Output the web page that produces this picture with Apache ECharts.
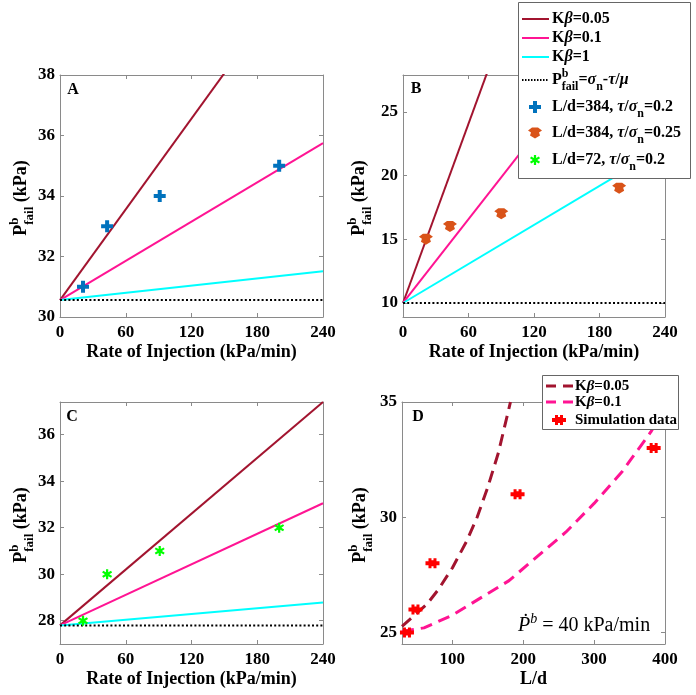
<!DOCTYPE html>
<html><head><meta charset="utf-8">
<script src="https://cdn.jsdelivr.net/npm/echarts@6/dist/echarts.min.js"></script>
<style>html,body{margin:0;padding:0;background:#fff}#c{width:696px;height:695px}</style>
</head><body><div id="c"></div>
<script>
// ---------------- data ----------------
const rates = [0, 240];
const aKb005 = [30.56, 42.56];
const aKb01 = [30.56, 35.75];
const aKb1 = [30.56, 31.51];
const aBase = [30.56, 30.56];
const aRate = [21, 43, 91, 200];
const aP = [31, 33, 34, 35];

const bKb005 = [10, 66.3];
const bKb01 = [10, 36.3];
const bKb1 = [10, 22.26];
const bBase = [10, 10];
const bRate = [21, 43, 90, 198];
const bP = [15, 16, 17, 19];

const cKb005 = [27.8, 37.4];
const cKb01 = [27.8, 33.05];
const cKb1 = [27.8, 28.78];
const cBase = [27.8, 27.8];
const cRate = [21, 43, 91, 200];
const cP = [28, 30, 31, 32];

const dLd005 = [29, 64, 80, 100, 120, 135, 150, 165, 182];
const dKb005 = [25.27, 26.22, 26.85, 27.8, 28.95, 30.0, 31.3, 32.8, 35.0];
const dLd01 = [29, 60, 100, 140, 180, 220, 260, 300, 340, 380, 400];
const dKb01 = [25.05, 25.2, 25.75, 26.5, 27.25, 28.3, 29.35, 30.6, 32.0, 33.7, 34.75];
const dLd = [36, 48, 72, 192, 384];
const dP = [25, 26, 28, 31, 33];

const rateTicks = [0, 60, 120, 180, 240];
const aYTicks = [30, 32, 34, 36, 38];
const bYTicks = [10, 15, 20, 25];
const cYTicks = [28, 30, 32, 34, 36];
const dXTicks = [100, 200, 300, 400];
const dYTicks = [25, 30, 35];

// ---------------- styles ----------------
const SERIF = "'Liberation Serif', 'Times New Roman', serif";
const AX = '#8a8a8a';
const C005 = '#A2142F', C01 = '#FF1493', C1 = '#00FFFF';
const cv = document.createElement('canvas').getContext('2d');
function tw(t, size, bold, italic) {
  cv.font = (italic ? 'italic ' : '') + (bold ? 'bold ' : '') + size + "px 'Liberation Serif'";
  return cv.measureText(t).width;
}
function rich(segs, base) {
  const kids = []; let x = 0;
  function put(seg, x0) {
    const small = seg.sup || seg.sub;
    const s = seg.s || (small ? Math.round(base * 0.72) : base);
    const dy = seg.sup ? -0.45 * base : seg.sub ? 0.38 * base : 0;
    const bold = seg.b !== false;
    const it = !!seg.i;
    const w = tw(seg.t, s, bold, it);
    kids.push({type: 'text', x: x0, y: dy + 0.33 * base - 0.33 * s, z: 101,
      style: {text: seg.t, fontSize: s, fontFamily: SERIF, fontWeight: bold ? 'bold' : 'normal',
        fontStyle: it ? 'italic' : 'normal', fill: '#000', align: 'left', verticalAlign: 'middle'}});
    return w;
  }
  for (const seg of segs) {
    if (seg.stack) { let w = 0; for (const s2 of seg.stack) w = Math.max(w, put(s2, x)); x += w; }
    else x += put(seg, x);
  }
  return {kids, width: x};
}
function richGroup(segs, base, x, y, opt) {
  opt = opt || {};
  const r = rich(segs, base);
  const off = opt.center ? -r.width / 2 : 0;
  r.kids.forEach(k => k.x += off);
  return {type: 'group', x, y, rotation: opt.rot || 0, z: 101, children: r.kids};
}

// ---------------- grids & axes ----------------
const grids = [
  {left: 60, top: 75, width: 263, height: 242},
  {left: 403, top: 75, width: 262, height: 242},
  {left: 60, top: 402, width: 263, height: 242},
  {left: 402, top: 402, width: 263, height: 242}
].map(g => Object.assign({outerBoundsMode: 'none', containLabel: false, show: false}, g));

const labelStyle = {color: '#000', fontFamily: SERIF, fontWeight: 'bold', fontSize: 17};
function axis(gi, min, max, ticks, pos, name) {
  const isX = pos === 'bottom' || pos === 'top';
  const main = pos === 'bottom' || pos === 'left';
  const a = {
    type: 'value', gridIndex: gi, min, max, position: pos,
    axisLine: {show: true, onZero: false, lineStyle: {color: AX, width: 1}},
    axisTick: {show: true, inside: true, length: 4, customValues: ticks, lineStyle: {color: AX, width: 1}},
    axisLabel: Object.assign({show: main, customValues: ticks, margin: isX ? 7 : 5}, labelStyle),
    splitLine: {show: false}
  };
  if (name) {
    a.name = name; a.nameLocation = 'middle'; a.nameGap = 26;
    a.nameTextStyle = {color: '#000', fontFamily: SERIF, fontWeight: 'bold', fontSize: 18};
  }
  return a;
}
const RX = 'Rate of Injection (kPa/min)';
const xAxis = [
  axis(0, 0, 240, rateTicks, 'bottom', RX), axis(0, 0, 240, rateTicks, 'top'),
  axis(1, 0, 240, rateTicks, 'bottom', RX), axis(1, 0, 240, rateTicks, 'top'),
  axis(2, 0, 240, rateTicks, 'bottom', RX), axis(2, 0, 240, rateTicks, 'top'),
  axis(3, 29, 400, dXTicks, 'bottom', 'L/d'), axis(3, 29, 400, dXTicks, 'top')
];
const yAxis = [
  axis(0, 30, 38, aYTicks, 'left'), axis(0, 30, 38, aYTicks, 'right'),
  axis(1, 8.9, 27.9, bYTicks, 'left'), axis(1, 8.9, 27.9, bYTicks, 'right'),
  axis(2, 27, 37.4, cYTicks, 'left'), axis(2, 27, 37.4, cYTicks, 'right'),
  axis(3, 24.5, 35, dYTicks, 'left'), axis(3, 24.5, 35, dYTicks, 'right')
];

// ---------------- symbols ----------------
const SYM_PLUS = 'M4,0H8V4H12V8H8V12H4V8H0V4H4Z';
const SYM_PENT = 'M0,3L4,0L10,0L14,3L11,5L12,8L7,11L2,8L3,5Z';
const SYM_STAR = 'M4,0H6V3L8.5,1.5L9.5,3.2L7,5L9.5,6.8L8.5,8.5L6,7V10H4V7L1.5,8.5L0.5,6.8L3,5L0.5,3.2L1.5,1.5L4,3Z';
const SYM_HASH = 'M3,0H6V2H8V0H11V3H14V7H11V10H8V8H6V10H3V7H0V3H3Z';
const P = d => 'path://' + d;

// polygon points from simple absolute path (M/L/H/V/Z)
function pathPoints(d) {
  const toks = d.match(/[MLHVZ]|-?[0-9.]+/g);
  const pts = []; let cx = 0, cy = 0, cmd = null, i = 0;
  while (i < toks.length) {
    const t = toks[i];
    if (/[MLHVZ]/.test(t)) { cmd = t; i++; if (cmd === 'Z') continue; }
    if (cmd === 'M' || cmd === 'L') { cx = +toks[i]; cy = +toks[i + 1]; i += 2; }
    else if (cmd === 'H') { cx = +toks[i]; i++; }
    else if (cmd === 'V') { cy = +toks[i]; i++; }
    else { i++; continue; }
    pts.push([cx, cy]);
  }
  return pts;
}

// ---------------- series ----------------
const zip = (xs, ys) => xs.map((x, i) => [x, ys[i]]);
function lineS(g, xs, ys, color, width, type) {
  return {type: 'line', xAxisIndex: 2 * g, yAxisIndex: 2 * g, data: zip(xs, ys), symbol: 'none',
    lineStyle: {color, width, type: type || 'solid'}, clip: true, silent: true, z: 2};
}
function scat(g, xs, ys, sym, size, color) {
  return {type: 'scatter', xAxisIndex: 2 * g, yAxisIndex: 2 * g, data: zip(xs, ys), symbol: P(sym),
    symbolSize: size, itemStyle: {color, opacity: 1}, clip: true, silent: true, z: 3};
}
const DOT = [2, 2.2];
const series = [
  lineS(0, rates, aKb005, C005, 2), lineS(0, rates, aKb01, C01, 2), lineS(0, rates, aKb1, C1, 2), lineS(0, rates, aBase, '#000', 2, DOT),
  scat(0, aRate, aP, SYM_PLUS, [12, 12], '#0072BD'),
  lineS(1, rates, bKb005, C005, 2), lineS(1, rates, bKb01, C01, 2), lineS(1, rates, bKb1, C1, 2), lineS(1, rates, bBase, '#000', 2, DOT),
  scat(1, bRate, bP, SYM_PENT, [14, 11], '#D95319'),
  lineS(2, rates, cKb005, C005, 2), lineS(2, rates, cKb01, C01, 2), lineS(2, rates, cKb1, C1, 2), lineS(2, rates, cBase, '#000', 2, DOT),
  scat(2, cRate, cP, SYM_STAR, [10, 10], '#00FF00'),
  lineS(3, dLd005, dKb005, C005, 3, [12, 7]), lineS(3, dLd01, dKb01, C01, 3, [12, 7]),
  scat(3, dLd, dP, SYM_HASH, [14, 10], '#FF0000')
];

// ---------------- graphics: titles, legends, labels ----------------
const G = [];
const ytitle = [{t: 'P'}, {stack: [{t: 'b', sup: 1}, {t: 'fail', sub: 1}]}, {t: ' (kPa)'}];
G.push(richGroup(ytitle, 18, 21, 198, {center: 1, rot: Math.PI / 2}));
G.push(richGroup(ytitle, 18, 359, 198, {center: 1, rot: Math.PI / 2}));
G.push(richGroup(ytitle, 18, 21, 525, {center: 1, rot: Math.PI / 2}));
G.push(richGroup(ytitle, 18, 360, 525, {center: 1, rot: Math.PI / 2}));
function letter(t, x, y) {
  return {type: 'text', x, y, z: 101, style: {text: t, fontSize: 16, fontFamily: SERIF, fontWeight: 'bold', fill: '#000', align: 'center', verticalAlign: 'middle'}};
}
G.push(letter('A', 73, 90), letter('B', 416, 89), letter('C', 72, 417), letter('D', 418, 417));

// D annotation
G.push(richGroup([{t: 'Ṗ', b: false, i: 1}, {t: 'b', sup: 1, b: false, i: 1}, {t: ' = 40 kPa/min', b: false}], 20, 518, 626));

// main legend
G.push({type: 'rect', z: 100, shape: {x: 518.5, y: 2.5, width: 172, height: 176}, style: {fill: '#fff', stroke: '#666', lineWidth: 1}});
function legLine(y, color, width, dash, x1, x2) {
  return {type: 'line', z: 101, shape: {x1, y1: y, x2, y2: y}, style: {stroke: color, lineWidth: width, lineDash: dash || null}};
}
function legSym(d, cx, cy, w, h, color) {
  const pts = pathPoints(d);
  const xs = pts.map(p => p[0]), ys = pts.map(p => p[1]);
  const x0 = Math.min(...xs), x1 = Math.max(...xs), y0 = Math.min(...ys), y1 = Math.max(...ys);
  const sp = pts.map(p => [cx - w / 2 + (p[0] - x0) / (x1 - x0) * w, cy - h / 2 + (p[1] - y0) / (y1 - y0) * h]);
  return {type: 'polygon', z: 101, shape: {points: sp}, style: {fill: color}};
}
const LX = 552;
G.push(legLine(19, C005, 2, null, 522, 549));
G.push(richGroup([{t: 'K'}, {t: 'β', i: 1}, {t: '=0.05'}], 16, LX, 19));
G.push(legLine(38, C01, 2, null, 522, 549));
G.push(richGroup([{t: 'K'}, {t: 'β', i: 1}, {t: '=0.1'}], 16, LX, 38));
G.push(legLine(57, C1, 2, null, 522, 549));
G.push(richGroup([{t: 'K'}, {t: 'β', i: 1}, {t: '=1'}], 16, LX, 57));
G.push(legLine(80, '#000', 2, [1.5, 1.5], 522, 549));
G.push(richGroup([{t: 'P'}, {stack: [{t: 'b', sup: 1}, {t: 'fail', sub: 1}]}, {t: '='}, {t: 'σ', i: 1}, {t: 'n', sub: 1}, {t: '-'}, {t: 'τ', i: 1}, {t: '/'}, {t: 'μ', i: 1}], 16, LX, 80));
G.push(legSym(SYM_PLUS, 535, 107, 12, 12, '#0072BD'));
G.push(richGroup([{t: 'L/d=384, '}, {t: 'τ', i: 1}, {t: '/'}, {t: 'σ', i: 1}, {t: 'n', sub: 1}, {t: '=0.2'}], 16, LX, 107));
G.push(legSym(SYM_PENT, 535, 133, 14, 11, '#D95319'));
G.push(richGroup([{t: 'L/d=384, '}, {t: 'τ', i: 1}, {t: '/'}, {t: 'σ', i: 1}, {t: 'n', sub: 1}, {t: '=0.25'}], 16, LX, 133));
G.push(legSym(SYM_STAR, 535, 160, 10, 10, '#00FF00'));
G.push(richGroup([{t: 'L/d=72, '}, {t: 'τ', i: 1}, {t: '/'}, {t: 'σ', i: 1}, {t: 'n', sub: 1}, {t: '=0.2'}], 16, LX, 160));

// D legend
G.push({type: 'rect', z: 100, shape: {x: 542.5, y: 375.5, width: 136, height: 54}, style: {fill: '#fff', stroke: '#666', lineWidth: 1}});
G.push(legLine(386, C005, 3, [10, 7], 546, 573));
G.push(richGroup([{t: 'K'}, {t: 'β', i: 1}, {t: '=0.05'}], 15, 575, 386));
G.push(legLine(402, C01, 3, [10, 7], 546, 573));
G.push(richGroup([{t: 'K'}, {t: 'β', i: 1}, {t: '=0.1'}], 15, 575, 402));
G.push(legSym(SYM_HASH, 559, 420, 14, 10, '#FF0000'));
G.push(richGroup([{t: 'Simulation data'}], 15, 575, 420));

const chart = echarts.init(document.getElementById('c'), null, {renderer: 'canvas'});
chart.setOption({
  animation: false,
  backgroundColor: '#fff',
  grid: grids, xAxis, yAxis, series,
  graphic: {elements: G}
});
</script></body></html>
